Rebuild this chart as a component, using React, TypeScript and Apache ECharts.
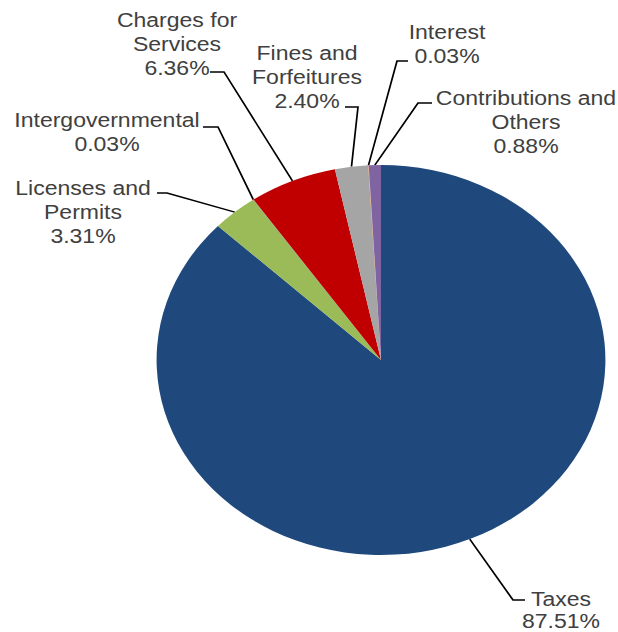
import React, { useEffect, useRef } from 'react';
import * as echarts from 'echarts';

// ---- data ----
const categories = [
  'Taxes',
  'Licenses and\nPermits',
  'Intergovernmental',
  'Charges for\nServices',
  'Fines and\nForfeitures',
  'Interest',
  'Contributions and\nOthers',
];
const shares = [87.51, 3.31, 0.03, 6.36, 2.4, 0.03, 0.88];
const colors = ['#1F497D', '#9BBB59', '#4BACC6', '#C00000', '#A5A5A5', '#F79646', '#8064A2'];

// ---- layout ----
const W = 537;
const H = 632;
const SX = 618 / W; // horizontal stretch of the original picture
const CX = 381 / SX;
const CY = 360;
const R = 195;

// [textCenterX, textCenterY, elbowX, elbowY, endX, endY, lineHeight] in picture pixels
const labelPlaces: number[][] = [
  [561, 610, 513, 600, 525, 600, 22],
  [83, 212, 167, 193, 157, 193, 24],
  [107, 132, 218, 127, 203, 127, 24],
  [177, 44, 224, 72, 210, 72, 24],
  [307, 77, 358, 107, 345, 107, 24],
  [447, 44, 397, 61, 408, 61, 24],
  [526, 122, 418, 103, 432, 103, 24],
];

export default function App() {
  const ref = useRef<HTMLDivElement>(null);
  useEffect(() => {
    if (!ref.current) return;
    const chart = echarts.init(ref.current, null, { renderer: 'svg' });
    const total = shares.reduce((a, b) => a + b, 0);
    const startOf = (i: number) => shares.slice(0, i).reduce((a, b) => a + b, 0);
    chart.setOption({
      animation: false,
      backgroundColor: '#ffffff',
      series: [
        {
          type: 'pie',
          center: [CX, CY],
          radius: R,
          startAngle: 90,
          clockwise: true,
          avoidLabelOverlap: false,
          data: categories.map((name, i) => ({
            name,
            value: shares[i],
            itemStyle: { color: colors[i] },
            label: { lineHeight: labelPlaces[i][6] },
          })),
          itemStyle: { borderWidth: 0 },
          emphasis: { disabled: true },
          label: {
            show: true,
            position: 'outside',
            formatter: (p: any) => `${p.name}\n${Number(p.value).toFixed(2)}%`,
            fontSize: 20,
            lineHeight: 24,
            color: '#404040',
            fontFamily: '"Liberation Sans", Arial, sans-serif',
            align: 'center',
          },
          labelLine: { show: true, lineStyle: { color: '#000000', width: 1.5 } },
          labelLayout: (p: any) => {
            const i = p.dataIndex;
            const L = labelPlaces[i];
            const mid = ((startOf(i) + shares[i] / 2) / total) * Math.PI * 2;
            const sx = CX + R * Math.sin(mid);
            const sy = CY - R * Math.cos(mid);
            return {
              x: L[0] / SX,
              y: L[1],
              align: 'center',
              verticalAlign: 'middle',
              labelLinePoints: [
                [sx, sy],
                [L[2] / SX, L[3]],
                [L[4] / SX, L[5]],
              ],
            };
          },
        },
      ],
    });
    return () => chart.dispose();
  }, []);
  return (
    <div
      ref={ref}
      style={{
        position: 'absolute',
        left: 0,
        top: 0,
        width: W,
        height: H,
        transform: `scaleX(${SX})`,
        transformOrigin: '0 0',
      }}
    />
  );
}
